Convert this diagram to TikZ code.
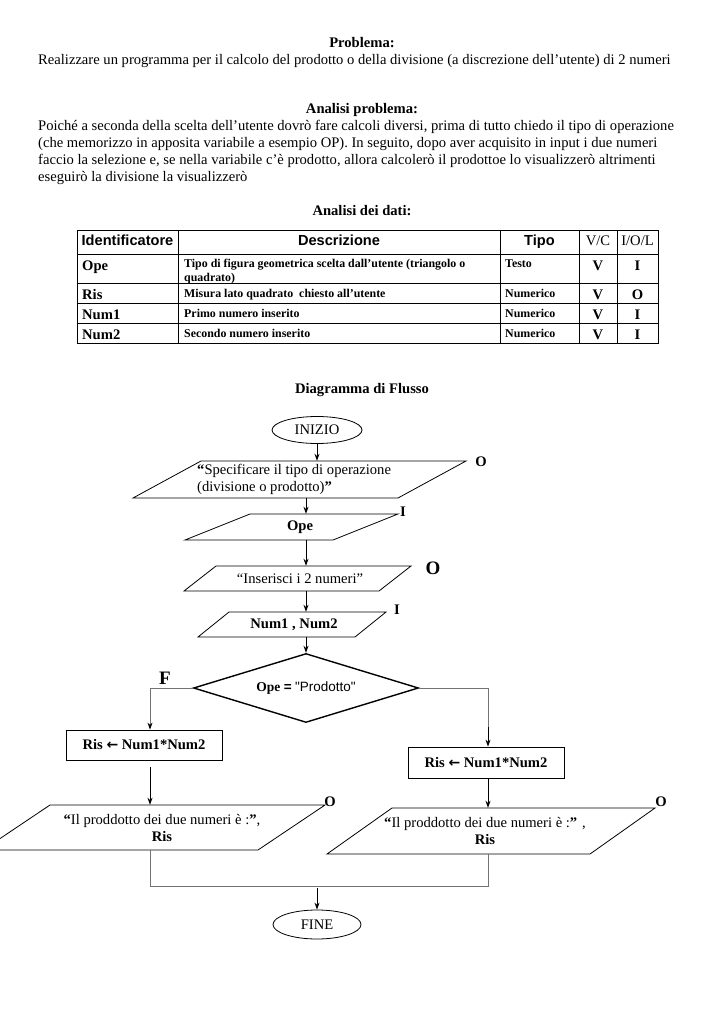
\documentclass[tikz,border=0pt]{standalone}
\usepackage{fontspec}
\setmainfont{Liberation Serif}
\newfontfamily\arialf{Liberation Sans}
\newfontfamily\dejavuf{DejaVu Sans}
\usetikzlibrary{shapes.geometric,arrows.meta}
\tikzset{
  txt/.style={inner sep=0pt, font=\fontsize{14.6}{17}\selectfont},
  btxt/.style={inner sep=0pt, font=\fontsize{14.6}{17}\selectfont\bfseries},
  smalltxt/.style={inner sep=0pt, font=\fontsize{11.9}{14}\selectfont\bfseries},
  hdr/.style={inner sep=0pt, font=\fontsize{14.6}{17}\selectfont\arialf\bfseries},
  lbl/.style={inner sep=0pt, font=\fontsize{14.6}{17}\selectfont\bfseries},
  biglbl/.style={inner sep=0pt, font=\fontsize{19}{22}\selectfont\bfseries},
  shp/.style={draw=black, line width=0.8pt},
  tline/.style={draw=black, line width=0.7pt},
  conn/.style={draw=black!55, line width=0.9pt},
  arr/.style={draw=black, line width=0.9pt, -{Stealth[length=7pt,width=5pt]}},
  garr/.style={draw=black!55, line width=0.9pt, -{Stealth[length=7pt,width=5pt,black]}},
}
\begin{document}
\begin{tikzpicture}[x=1pt,y=-1pt]
\useasboundingbox (0,0) rectangle (725,1024);
\fill[white] (0,0) rectangle (725,1024);

% ---------- heading text ----------
\node[btxt, anchor=base] (tProb) at (362,48) {Problema:};
\node[txt, anchor=base west] (tReal) at (38,65) {Realizzare un programma per il calcolo del prodotto o della divisione (a discrezione dell’utente) di 2 numeri};
\node[btxt, anchor=base] (tAnal) at (362,114) {Analisi problema:};
\node[txt, anchor=base west] (par1) at (38,131) {Poiché a seconda della scelta dell’utente dovrò fare calcoli diversi, prima di tutto chiedo il tipo di operazione};
\node[txt, anchor=base west] (par2) at (38,148) {(che memorizzo in apposita variabile a esempio OP). In seguito, dopo aver acquisito in input i due numeri};
\node[txt, anchor=base west] (par3) at (38,165) {faccio la selezione e, se nella variabile c’è prodotto, allora calcolerò il prodottoe lo visualizzerò altrimenti};
\node[txt, anchor=base west] (par4) at (38,182) {eseguirò la divisione la visualizzerò};
\node[btxt, anchor=base] (tDati) at (362,216) {Analisi dei dati:};

% ---------- table ----------
\draw[tline] (77,230) rectangle (658,343);
\foreach \yy in {254,283,303,323} \draw[tline] (77,\yy) -- (658,\yy);
\foreach \xx in {178,500,579,617} \draw[tline] (\xx,230) -- (\xx,343);

\node[hdr, anchor=base] (hId) at (127.5,245) {Identificatore};
\node[hdr, anchor=base] (hDe) at (339,245) {Descrizione};
\node[hdr, anchor=base] (hTi) at (539.5,245) {Tipo};
\node[txt, anchor=base] (hVC) at (598,245) {V/C};
\node[txt, anchor=base] (hIO) at (637.5,245) {I/O/L};

\node[btxt, anchor=base west] (r1a) at (82,270) {Ope};
\node[smalltxt, anchor=base west] (r1b) at (184,267) {Tipo di figura geometrica scelta dall’utente (triangolo o};
\node[smalltxt, anchor=base west] (r1b2) at (184,281) {quadrato)};
\node[smalltxt, anchor=base west] (r1c) at (505,267) {Testo};
\node[btxt, anchor=base] (r1d) at (598,270) {V};
\node[btxt, anchor=base] (r1e) at (637.5,270) {I};

\node[btxt, anchor=base west] (r2a) at (82,299) {Ris};
\node[smalltxt, anchor=base west] (r2b) at (184,297) {Misura lato quadrato\ \ chiesto all’utente};
\node[smalltxt, anchor=base west] (r2c) at (505,297) {Numerico};
\node[btxt, anchor=base] (r2d) at (598,299) {V};
\node[btxt, anchor=base] (r2e) at (637.5,299) {O};

\node[btxt, anchor=base west] (r3a) at (82,319) {Num1};
\node[smalltxt, anchor=base west] (r3b) at (184,317) {Primo numero inserito};
\node[smalltxt, anchor=base west] (r3c) at (505,317) {Numerico};
\node[btxt, anchor=base] (r3d) at (598,319) {V};
\node[btxt, anchor=base] (r3e) at (637.5,319) {I};

\node[btxt, anchor=base west] (r4a) at (82,339) {Num2};
\node[smalltxt, anchor=base west] (r4b) at (184,337) {Secondo numero inserito};
\node[smalltxt, anchor=base west] (r4c) at (505,337) {Numerico};
\node[btxt, anchor=base] (r4d) at (598,339) {V};
\node[btxt, anchor=base] (r4e) at (637.5,339) {I};

% ---------- flowchart ----------
\node[btxt, anchor=base] (tDiag) at (362,393) {Diagramma di Flusso};

\coordinate (spine) at (306,0);
\coordinate (lx) at (150,688);
\coordinate (rx) at (488,688);
\coordinate (rx2) at (488,727);
\coordinate (mL) at (150,886);
\coordinate (mR) at (488,886);

\node[shp, ellipse, minimum width=90, minimum height=27, txt] (inizio) at (317,430) {INIZIO};

\draw[shp] (201,461) -- (466,461) -- (398,498) -- (133,498) -- cycle;
\node[txt, align=left, minimum height=37, anchor=west] (p1) at (197,479.5)
  {{\bfseries “}Specificare il tipo di operazione\\(divisione o prodotto){\bfseries ”}};
\node[lbl] (o1) at (481,462) {O};

\draw[shp] (250,514) -- (398,514) -- (333,540) -- (185,540) -- cycle;
\node[btxt, minimum height=26] (ope) at (300,527) {Ope};
\node[lbl] (i1) at (403,512) {I};

\draw[shp] (216,566) -- (411,566) -- (379,591) -- (184,591) -- cycle;
\node[txt, minimum height=25] (ins) at (300,578.5) {“Inserisci i 2 numeri”};
\node[biglbl] (o2) at (433,568) {O};

\draw[shp] (229,612) -- (386,612) -- (355,637) -- (198,637) -- cycle;
\node[btxt, minimum height=25] (num) at (294,624.5) {Num1 , Num2};
\node[lbl] (i2) at (397,610) {I};

\node[diamond, draw=black, line width=1.4pt, minimum width=225, minimum height=69, aspect=3.26, inner sep=0pt,
      font=\fontsize{13.5}{16}\selectfont] (dec) at (306,688)
  {{\bfseries Ope} {\arialf\bfseries =} {\arialf "Prodotto"}};
\node[biglbl] (fl) at (165,678) {F};

\node[shp, btxt, minimum width=156, minimum height=30] (box1) at (144,745)
  {Ris {\dejavuf\bfseries\fontsize{14}{14}\selectfont ←} Num1*Num2};
\node[shp, btxt, minimum width=156, minimum height=31] (box2) at (486,762.5)
  {Ris {\dejavuf\bfseries\fontsize{14}{14}\selectfont ←} Num1*Num2};

\draw[shp] (50,805) -- (325,805) -- (258,850) -- (-17,850) -- cycle;
\node[txt, align=center, minimum height=45] (out1) at (162,827.5)
  {{\bfseries “}Il proddotto dei due numeri è :{\bfseries ”},\\ \textbf{Ris}};
\node[lbl] (o3) at (330,802) {O};

\draw[shp] (392,808) -- (655,808) -- (590,854) -- (327,854) -- cycle;
\node[txt, align=center, minimum height=46] (out2) at (485,831)
  {{\bfseries “}Il proddotto dei due numeri è :{\bfseries ”} ,\\ \textbf{Ris}};
\node[lbl] (o4) at (661,802) {O};

\node[shp, ellipse, minimum width=88, minimum height=29, txt] (fine) at (317,924.5) {FINE};

% connectors
\draw[arr] (inizio.south) -- (inizio.south |- p1.north);
\draw[arr] (p1.south -| spine) -- (ope.north -| spine);
\draw[arr] (ope.south -| spine) -- (ins.north -| spine);
\draw[arr] (ins.south -| spine) -- (num.north -| spine);
\draw[arr] (num.south -| spine) -- (dec.north);
\draw[garr] (dec.west) -- (lx) -- (lx |- box1.north);
\draw[conn] (dec.east) -- (rx) -- (rx2);
\draw[arr] (rx2) -- (rx |- box2.north);
\draw[arr, shorten <=7pt] (box1.south -| lx) -- (out1.north -| lx);
\draw[arr] (box2.south -| rx) -- (out2.north -| rx);
\draw[conn] (out1.south -| lx) -- (mL) -- (mR) -- (out2.south -| rx);
\draw[arr, shorten <=2pt] (mL -| fine.north) -- (fine.north);
\end{tikzpicture}
\end{document}
